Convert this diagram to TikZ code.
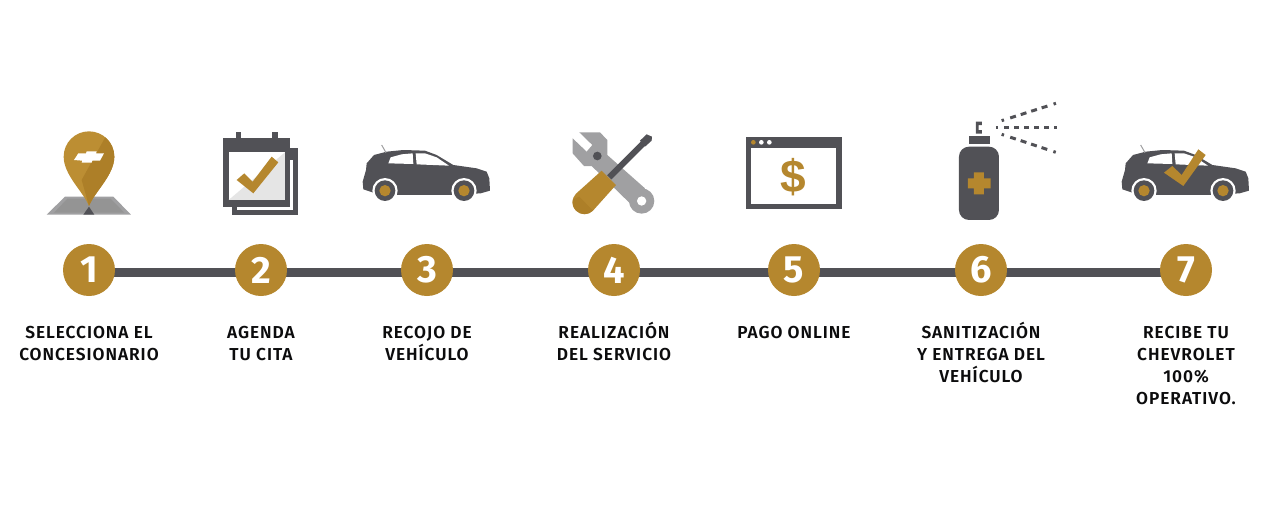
\documentclass[tikz,border=0pt]{standalone}
\usepackage{fontspec}
\setmainfont{Fira Sans}
\newfontfamily\lblfont[LetterSpace=5.5]{Fira Sans SemiBold}
\newfontfamily\numfont{Fira Sans Bold}
\newfontfamily\dolfont{Liberation Sans Bold}
\usetikzlibrary{backgrounds}
\definecolor{gold}{HTML}{B5872E}
\definecolor{golddk}{HTML}{AD7F28}
\definecolor{goldlt}{HTML}{BC8E33}
\definecolor{slate}{HTML}{515156}
\definecolor{wgray}{HTML}{A0A0A2}
\newcommand{\fl}{\rule{0pt}{18pt}}
\tikzset{
  stepdot/.style={circle,fill=gold,minimum size=52pt,inner sep=0pt,text=white,font=\fontsize{38}{38}\numfont},
  steplbl/.style={align=center,font=\fontsize{17.3}{22}\lblfont,anchor=north,text=black!85!slate,inner sep=0pt},
  timeline/.style={slate,line width=9pt},
  spraydash/.style={slate,line width=3pt,dash pattern=on 2.5pt off 6.5pt on 6pt off 5pt on 6pt off 5pt on 6pt off 5pt on 6pt off 6.5pt on 2.5pt off 30pt},
  spraymid/.style={slate,line width=3pt,dash pattern=on 2.5pt off 6pt on 5pt off 5pt on 5pt off 5pt on 5pt off 5pt on 5pt off 5pt on 5pt off 5pt on 2.5pt off 30pt},
  icon/.style={x=0.3333pt,y=-0.3333pt},
  carpic/.pic={
    \begin{scope}[icon]
    \fill[slate] (40,208) -- (38,185) -- (48,150) -- (50,130) -- (72,105) -- (110,95) -- (160,90) -- (225,92) -- (260,105) -- (310,135) -- (380,145) -- (410,155) -- (418,175) -- (420,212) -- (392,220) -- (300,225) -- (145,225) -- (70,218) -- cycle;
    \draw[wgray,line width=1pt] (95,75) -- (108,98);
    \fill[white] (115,130) -- (122,112) -- (155,103) -- (188,100) -- (190,132) -- cycle;
    \fill[white] (197,100) -- (225,100) -- (260,112) -- (297,137) -- (200,133) -- cycle;
    \foreach \cx in {105,342}{
      \fill[white] (\cx,212) circle (38);
      \fill[slate] (\cx,212) circle (31);
      \fill[gold] (\cx,212) circle (17);
    }
    \end{scope}
  }
}
\begin{document}
\begin{tikzpicture}[x=1pt,y=-1pt]
\useasboundingbox (0,0) rectangle (1268,507);
% steps
\node[stepdot] (n1) at (89,270) {1};
\node[stepdot] (n2) at (261,270) {2};
\node[stepdot] (n3) at (427,270) {3};
\node[stepdot] (n4) at (614,270) {4};
\node[stepdot] (n5) at (794,270) {5};
\node[stepdot] (n6) at (981,270) {6};
\node[stepdot] (n7) at (1186,270) {7};
\begin{scope}[on background layer]
\fill[white] (0,0) rectangle (1268,507);
\draw[timeline] ([yshift=-2.5pt]n1.center) -- ([yshift=-2.5pt]n7.center);
\end{scope}
% labels
\node[steplbl] (t1) at (89,320.5) {\fl SELECCIONA EL\\CONCESIONARIO};
\node[steplbl] (t2) at (261,320.5) {\fl AGENDA\\TU CITA};
\node[steplbl] (t3) at (427,320.5) {\fl RECOJO DE\\VEHÍCULO};
\node[steplbl] (t4) at (614,320.5) {\fl REALIZACIÓN\\DEL SERVICIO};
\node[steplbl] (t5) at (794,320.5) {\fl PAGO ONLINE};
\node[steplbl] (t6) at (981,320.5) {\fl SANITIZACIÓN\\Y ENTREGA DEL\\VEHÍCULO};
\node[steplbl] (t7) at (1186,320.5) {\fl RECIBE TU\\CHEVROLET\\100\%\\OPERATIVO.};
% icon 1: pin
\begin{scope}[shift={(30,120)},icon]
\fill[wgray] (50,284) -- (105,230) -- (250,230) -- (303,284) -- cycle;
\fill[black!42] (72,278) -- (112,236) -- (242,236) -- (283,278) -- cycle;
\fill[slate] (177,260) -- (160,284) -- (193,284) -- cycle;
\fill[goldlt] (177,258) .. controls (160,215) and (101,165) .. (101,110) arc[start angle=180,end angle=360,radius=76] .. controls (253,165) and (194,215) .. (177,258) -- cycle;
\fill[golddk] (177,258) .. controls (194,215) and (253,165) .. (253,110) arc[start angle=0,end angle=-50,radius=76] -- (155,180) -- cycle;
\fill[white] (132,120) -- (145,100) -- (168,100) -- (170,94) -- (200,94) -- (198,100) -- (222,100) -- (210,122) -- (187,122) -- (185,128) -- (155,128) -- (157,122) -- cycle;
\end{scope}
% icon 2: calendar
\begin{scope}[shift={(30,120)},icon]
\fill[slate] (605,85) rectangle (805,284);
\fill[white] (620,120) rectangle (790,270);
\fill[slate] (580,55) rectangle (780,260);
\fill[slate] (618,35) rectangle (634,56);
\fill[slate] (727,35) rectangle (743,56);
\fill[white] (596,97) rectangle (765,240);
\fill[black!10] (596,240) -- (765,97) -- (765,240) -- cycle;
\fill[gold] (620,180) -- (643,160) -- (668,185) -- (725,110) -- (745,127) -- (670,220) -- cycle;
\end{scope}
% icon 3: car
\pic at (350,120) {carpic};
% icon 4: tools
\begin{scope}[shift={(350,120)},icon]
\fill[wgray] (668,55) -- (710,95) -- (727,75) -- (688,37) -- (750,37) -- (772,60) -- (772,105) -- (885,205) -- (840,250) -- (725,138) -- (702,138) -- (668,100) -- cycle;
\fill[wgray] (875,243) circle (38);
\fill[white] (875,243) circle (14);
\fill[slate] (742,108) circle (13);
\fill[gold] (755,152) -- (798,195) -- (729,272) arc[start angle=45,end angle=225,radius=36] -- cycle;
\fill[golddk] (669,238) -- (688,230) -- (729,272) arc[start angle=45,end angle=195,radius=36] -- cycle;
\draw[slate,line width=6pt] (778,172) -- (880,70);
\fill[slate] (870,62) -- (890,43) -- (906,50) -- (905,62) -- (885,80) -- cycle;
\end{scope}
% icon 5: browser
\begin{scope}[shift={(740,95)},icon]
\fill[slate] (17,125) rectangle (306,343);
\fill[white] (33,158) rectangle (288,326);
\fill[gold] (40,142) circle (7);
\fill[white] (64,142) circle (7);
\fill[white] (88,142) circle (7);
\node[text=gold,font=\fontsize{46}{46}\dolfont,inner sep=0pt] (dollar) at (160,245) {\$};
\end{scope}
% icon 6: spray
\begin{scope}[shift={(740,95)},icon]
\fill[slate,rounded corners=10pt] (657,155) rectangle (777,375);
\fill[slate] (686,124) rectangle (749,147);
\fill[slate] (708,80) -- (726,80) -- (726,90) -- (716,90) -- (716,105) -- (726,105) -- (726,116) -- (708,116) -- cycle;
\fill[gold] (702,232) -- (732,232) -- (732,250) -- (752,250) -- (752,280) -- (732,280) -- (732,298) -- (702,298) -- (702,280) -- (684,280) -- (684,250) -- (702,250) -- cycle;
\draw[spraydash] (785,77) -- (948,25);
\draw[spraymid] (768,97) -- (952,97);
\draw[spraydash] (785,118) -- (948,172);
\end{scope}
% icon 7: car with check
\pic at (1109,120) {carpic};
\begin{scope}[shift={(1110,130)},icon]
\fill[gold] (162,128) -- (187,108) -- (215,135) -- (265,58) -- (287,75) -- (220,168) -- cycle;
\end{scope}
\end{tikzpicture}
\end{document}
